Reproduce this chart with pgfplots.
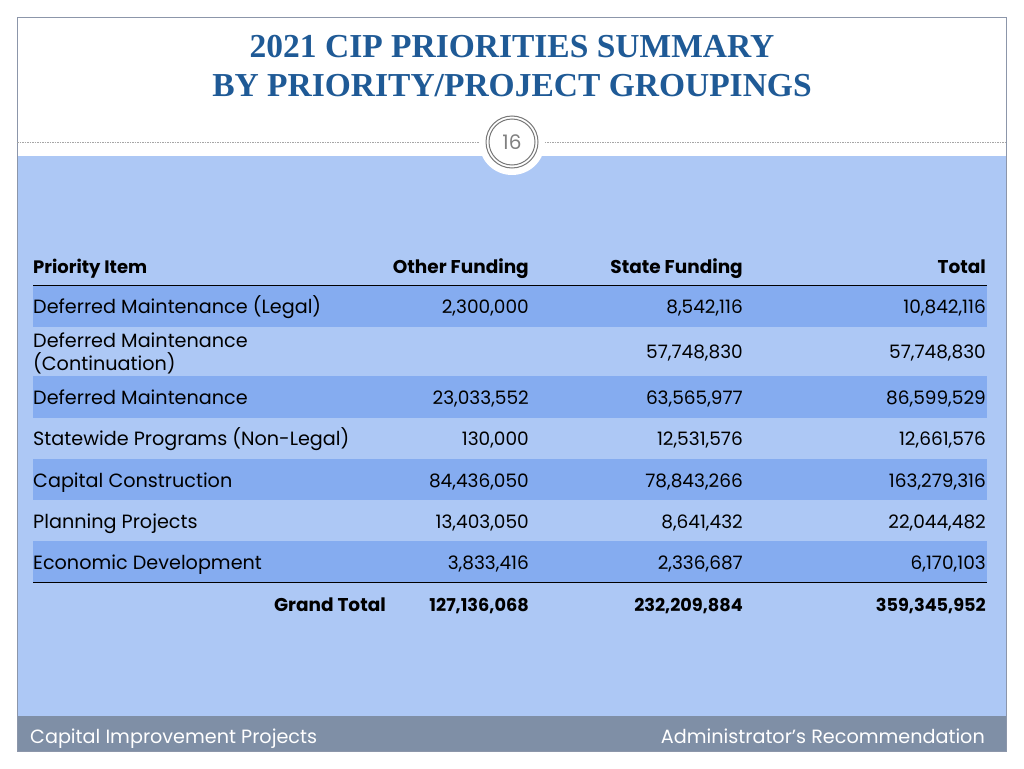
\documentclass[border=0pt]{standalone}
\usepackage{pgfplots}
\pgfplotsset{compat=1.18}
\usepackage{pgfplotstable}
\usepackage{fontspec}
\setmainfont{Poppins}
\newfontfamily\titlefont{Liberation Serif}
\definecolor{titleblue}{RGB}{31,90,150}
\definecolor{bgblue}{RGB}{173,200,245}
\definecolor{rowblue}{RGB}{133,172,240}
\definecolor{footgray}{RGB}{127,143,166}
\definecolor{framegray}{RGB}{140,150,170}
\definecolor{ringgray}{RGB}{120,120,120}

% row labels (x = left edge, y = pixel row from top)
\pgfplotstableread{
x y label
33 307 {Deferred Maintenance (Legal)}
33 341 {Deferred Maintenance}
33 364 {(Continuation)}
33 398 {Deferred Maintenance}
33 439 {Statewide Programs (Non-Legal)}
33 481 {Capital Construction}
33 522 {Planning Projects}
33 563 {Economic Development}
}\labels
% Other Funding (right aligned)
\pgfplotstableread{
x y v
529 307 2,300,000
529 398 23,033,552
529 439 130,000
529 481 84,436,050
529 522 13,403,050
529 563 3,833,416
}\other
% State Funding
\pgfplotstableread{
x y v
743 307 8,542,116
743 352 57,748,830
743 398 63,565,977
743 439 12,531,576
743 481 78,843,266
743 522 8,641,432
743 563 2,336,687
}\state
% Total
\pgfplotstableread{
x y v
986 307 10,842,116
986 352 57,748,830
986 398 86,599,529
986 439 12,661,576
986 481 163,279,316
986 522 22,044,482
986 563 6,170,103
}\total
% column headers (bold, right aligned)
\pgfplotstableread{
x y v
529 267 {Other Funding}
743 267 {State Funding}
986 267 {Total}
386 605 {Grand Total}
}\heads
% grand totals
\pgfplotstableread{
x y v
529 605 127,136,068
743 605 232,209,884
986 605 359,345,952
}\grand

\begin{document}
\begin{tikzpicture}
\begin{axis}[
  width=1024pt, height=768pt, scale only axis,
  xmin=0, xmax=1024, ymin=0, ymax=768, y dir=reverse,
  axis lines=none, ticks=none, clip=false,
  bodytext/.style={draw=none, mark=none, nodes near coords,
    point meta=explicit symbolic,
    every node near coord/.append style={inner sep=0pt, text=black, yshift=-4pt,
      font=\fontsize{18.5}{20}\selectfont}},
]
% background
\fill[white] (axis cs:0,0) rectangle (axis cs:1024,768);
\fill[bgblue] (axis cs:17,156) rectangle (axis cs:1006,716);
\fill[footgray] (axis cs:17,716) rectangle (axis cs:1006,751);
\draw[framegray, line width=0.8pt] (axis cs:17,17) rectangle (axis cs:1006,751);
% dotted separator and page circle
\draw[gray!70, dash pattern=on 1.5pt off 1pt, line width=0.6pt] (axis cs:17,142) -- (axis cs:1006,142);
\fill[white] (axis cs:512,142) circle[radius=33pt];
\draw[ringgray, line width=1pt] (axis cs:512,142) circle[radius=26pt];
\draw[ringgray, line width=1pt] (axis cs:512,142) circle[radius=23pt];
\node[text=gray, font=\fontsize{20}{22}\selectfont] at (axis cs:512,142) {16};
% title
\node[text=titleblue, font=\titlefont\bfseries\fontsize{33.5}{36}\selectfont] at (axis cs:512,47) {2021 CIP PRIORITIES SUMMARY};
\node[text=titleblue, font=\titlefont\bfseries\fontsize{33.5}{36}\selectfont] at (axis cs:512,86) {BY PRIORITY/PROJECT GROUPINGS};
% row shading
\fill[rowblue] (axis cs:33,286) rectangle (axis cs:987,327);
\fill[rowblue] (axis cs:33,376) rectangle (axis cs:987,418);
\fill[rowblue] (axis cs:33,459) rectangle (axis cs:987,500);
\fill[rowblue] (axis cs:33,541) rectangle (axis cs:987,582);
\draw[black, line width=1.2pt] (axis cs:33,285.5) -- (axis cs:987,285.5);
\draw[black, line width=1.2pt] (axis cs:33,582.5) -- (axis cs:987,582.5);
% header left
\node[anchor=mid west, inner sep=0pt, yshift=-4pt, font=\bfseries\fontsize{18}{20}\selectfont] at (axis cs:33,267) {Priority Item};
% table text
\addplot[bodytext, every node near coord/.append style={anchor=mid west, font=\fontsize{19.2}{20}\selectfont}] table[x=x,y=y,meta=label]{\labels};
\addplot[bodytext, every node near coord/.append style={anchor=mid east}] table[x=x,y=y,meta=v]{\other};
\addplot[bodytext, every node near coord/.append style={anchor=mid east}] table[x=x,y=y,meta=v]{\state};
\addplot[bodytext, every node near coord/.append style={anchor=mid east}] table[x=x,y=y,meta=v]{\total};
\addplot[bodytext, every node near coord/.append style={anchor=mid east, font=\bfseries\fontsize{18.5}{20}\selectfont}] table[x=x,y=y,meta=v]{\heads};
\addplot[bodytext, every node near coord/.append style={anchor=mid east, font=\bfseries\fontsize{17.7}{20}\selectfont}] table[x=x,y=y,meta=v]{\grand};
% footer
\node[anchor=mid west, inner sep=0pt, yshift=-4pt, text=white, font=\fontsize{19.2}{20}\selectfont] at (axis cs:30,737) {Capital Improvement Projects};
\node[anchor=mid east, inner sep=0pt, yshift=-4pt, text=white, font=\fontsize{19.2}{20}\selectfont] at (axis cs:985,737) {Administrator’s Recommendation};
\end{axis}
\end{tikzpicture}
\end{document}
